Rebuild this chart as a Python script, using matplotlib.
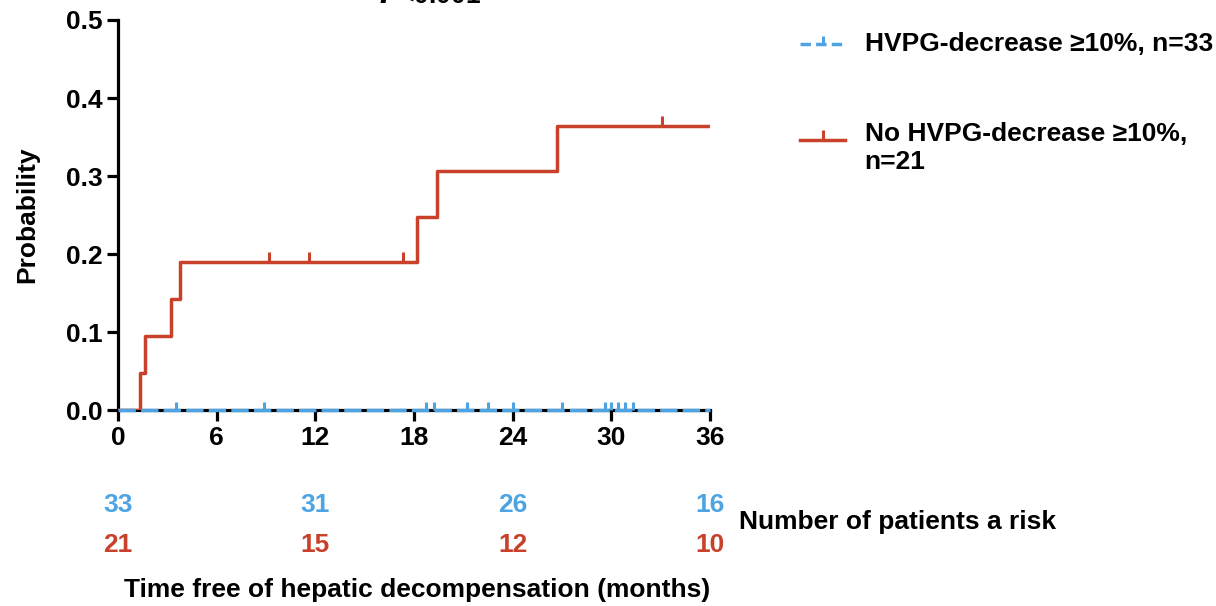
import numpy as np
import matplotlib.pyplot as plt
from matplotlib.lines import Line2D

plt.rcParams['font.family'] = ['Liberation Sans', 'DejaVu Sans']
plt.rcParams['font.weight'] = 'bold'

BLUE = '#4ea4e2'
RED = '#c8412b'
FS = 19

# Kaplan-Meier style cumulative probability
red_times = [0, 1.35, 1.65, 3.2, 3.8, 18.2, 19.4, 26.7, 36]
red_prob = [0, 0.048, 0.095, 0.143, 0.190, 0.248, 0.306, 0.364, 0.364]
red_censor = [9.2, 11.6, 17.3, 33.1]

blue_times = [0, 36]
blue_prob = [0, 0]
blue_censor = [3.5, 8.9, 18.7, 19.2, 21.2, 22.5, 24.0, 27.0, 29.6, 30.0, 30.4, 30.8, 31.3]

risk_times = [0, 12, 24, 36]
blue_risk = [33, 31, 26, 16]
red_risk = [21, 15, 12, 10]

label_blue = 'HVPG-decrease ≥10%, n=33'
label_red = 'No HVPG-decrease ≥10%,\nn=21'


def step_at(times, probs, t):
    idx = np.searchsorted(times, t, side='right') - 1
    return probs[idx]


tick_up = [(0, 0), (0, 1)]

fig = plt.figure(figsize=(12.16, 6.06), dpi=100)
ax = fig.add_axes([0.097, 0.323, 0.487, 0.644])

ax.step(red_times, red_prob, where='post', color=RED, lw=2.5, zorder=3)
ax.plot(red_censor, [step_at(red_times, red_prob, t) for t in red_censor],
        ls='none', marker=tick_up, ms=14, mew=2.2, color=RED, zorder=3)

ax.step(blue_times, blue_prob, where='post', color=BLUE, lw=2.5,
        dashes=(5, 1.5), zorder=4, clip_on=False)
ax.plot(blue_censor, [0] * len(blue_censor), ls='none', marker=tick_up,
        ms=12, mew=2.2, color=BLUE, zorder=4, clip_on=False)

ax.set_xlim(0, 36)
ax.set_ylim(0, 0.5)
ax.set_xticks(np.arange(0, 37, 6))
ax.set_yticks(np.arange(0, 0.51, 0.1))
ax.set_yticklabels([f'{v:.1f}' for v in np.arange(0, 0.51, 0.1)])
ax.spines['top'].set_visible(False)
ax.spines['right'].set_visible(False)
for s in ['left', 'bottom']:
    ax.spines[s].set_linewidth(2.3)
ax.tick_params(width=2.3, length=8, labelsize=FS, pad=3)
ax.set_ylabel('Probability', fontsize=FS, fontweight='bold')
ax.yaxis.set_label_coords(-0.133, 0.5)

# number at risk table
for t, b, r in zip(risk_times, blue_risk, red_risk):
    ax.text(t, -0.122, str(b), color=BLUE, fontsize=FS, fontweight='bold',
            ha='center', va='center')
    ax.text(t, -0.173, str(r), color=RED, fontsize=FS, fontweight='bold',
            ha='center', va='center')
fig.text(0.608, 1 - 522 / 606, 'Number of patients a risk', fontsize=FS,
         fontweight='bold', ha='left', va='center')
fig.text(0.343, 1 - 590 / 606, 'Time free of hepatic decompensation (months)',
         fontsize=FS, fontweight='bold', ha='center', va='center')

# p-value, partly cut off at the top edge (as in the source figure)
fig.text(0.354, 0.986, '$\\mathbfit{P}$<0.001', fontsize=FS, fontweight='bold',
         ha='center', va='bottom')

# legend drawn by hand
x0, x1 = 0.658, 0.695
yb, yr = 1 - 44 / 606, 1 - 140 / 606
fig.add_artist(Line2D([x0, x1], [yb, yb], color=BLUE, lw=2.5, dashes=(3, 1.5)))
fig.add_artist(Line2D([(x0 + x1) / 2], [yb], color=BLUE, marker=tick_up, ms=12,
                      mew=2.2, ls='none'))
fig.add_artist(Line2D([x0, x1], [yr, yr], color=RED, lw=2.5))
fig.add_artist(Line2D([(x0 + x1) / 2], [yr], color=RED, marker=tick_up, ms=14,
                      mew=2.2, ls='none'))
fig.text(0.711, yb, label_blue, fontsize=FS, fontweight='bold', ha='left', va='center')
fig.text(0.711, yr + 0.029, label_red, fontsize=FS, fontweight='bold', ha='left',
         va='top', linespacing=1.2)

fig.savefig('out.png', dpi=100)
